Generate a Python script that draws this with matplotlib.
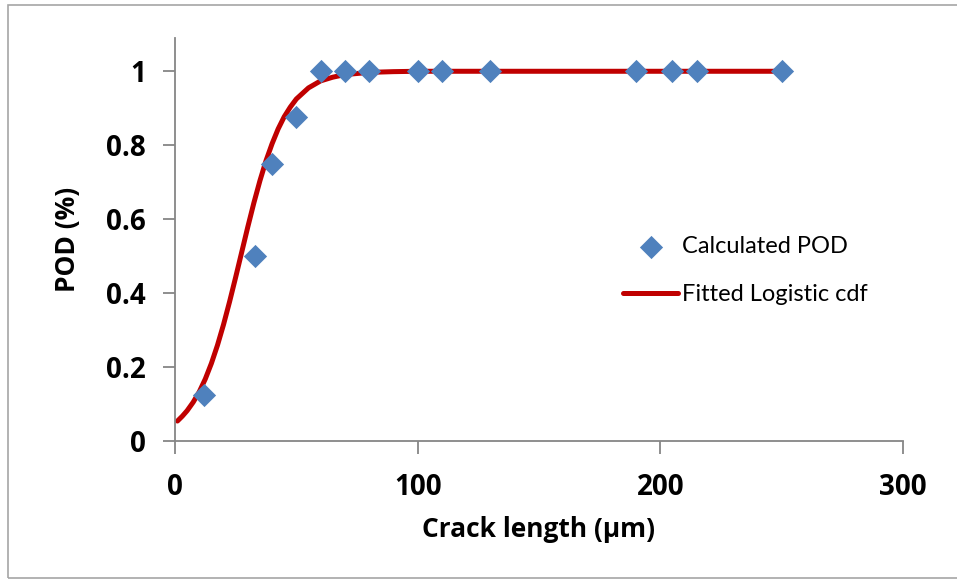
#!/usr/bin/env python3
"""POD curve: calculated POD points and fitted logistic cdf."""

import matplotlib
matplotlib.use("Agg")
import matplotlib.pyplot as plt
from matplotlib.patches import Rectangle

# calculated POD points
crack_len = [12, 33, 40, 50, 60, 70, 80, 100, 110, 130, 190, 205, 215, 250]
pod = [0.125, 0.5, 0.75, 0.875, 1, 1, 1, 1, 1, 1, 1, 1, 1, 1]

# fitted logistic cdf
fit_x = [1, 3, 5, 7.5, 10, 12.5, 15, 17.5, 20, 22.5, 25, 27.5, 30, 32.5, 35,
         37.5, 40, 42.5, 45, 47.5, 50, 55, 60, 65, 70, 80, 90, 100, 150, 200, 250]
fit_y = [0.054, 0.067, 0.082, 0.105, 0.133, 0.168, 0.210, 0.259, 0.315, 0.377,
         0.443, 0.511, 0.579, 0.644, 0.704, 0.758, 0.804, 0.844, 0.877, 0.903,
         0.925, 0.955, 0.974, 0.984, 0.991, 0.997, 0.999, 1.0, 1.0, 1.0, 1.0]

x_ticks = [0, 100, 200, 300]
y_ticks = [0, 0.2, 0.4, 0.6, 0.8, 1]
y_tick_labels = ["0", "0.2", "0.4", "0.6", "0.8", "1"]

W, H = 957, 581
AXIS = "#868686"
BOLD = dict(family=["Open Sans", "DejaVu Sans"], fontweight="bold")

plt.rcParams["font.family"] = ["Lato", "DejaVu Sans"]

fig = plt.figure(figsize=(W / 100, H / 100), dpi=100)
fig.patches.append(Rectangle((8 / W, 1 - 578 / H), 1.2, (578 - 5) / H,
                             transform=fig.transFigure, fill=False,
                             edgecolor="#a6a6a6", linewidth=1.2))

ax = fig.add_axes([175 / W, 1 - 441 / H, (903 - 175) / W, (441 - 38) / H])
ax.set_xlim(0, 300)
ax.set_ylim(0, 1.09)

ax.plot(fit_x, fit_y, color="#c00000", linewidth=3.6, solid_capstyle="round",
        label="Fitted Logistic cdf", zorder=2)
ax.scatter(crack_len, pod, marker="D", s=140, color="#4f81bd",
           label="Calculated POD", zorder=3, linewidths=0)

for side in ("top", "right"):
    ax.spines[side].set_visible(False)
for side in ("left", "bottom"):
    ax.spines[side].set_color(AXIS)
    ax.spines[side].set_linewidth(1.3)

ax.set_xticks(x_ticks)
ax.set_yticks(y_ticks)
ax.set_yticklabels(y_tick_labels)
ax.tick_params(axis="both", direction="out", length=9, width=1.3, color=AXIS)
ax.tick_params(axis="y", pad=12)
ax.tick_params(axis="x", pad=14)
for lbl in ax.get_xticklabels() + ax.get_yticklabels():
    lbl.set(fontsize=20, **BOLD)

ax.set_xlabel("Crack length (µm)", fontsize=19, labelpad=10, **BOLD)
ax.set_ylabel("POD (%)", fontsize=19, labelpad=18, **BOLD)

handles, labels = ax.get_legend_handles_labels()
ax.legend(handles[::-1], labels[::-1], loc="upper left",
          bbox_to_anchor=(623 / W, 1 - 236 / H), bbox_transform=fig.transFigure,
          frameon=False, fontsize=17, handlelength=2.33, handletextpad=0.17,
          labelspacing=1.15, borderaxespad=0, borderpad=0, scatterpoints=1)

fig.savefig("out.png", dpi=100)
